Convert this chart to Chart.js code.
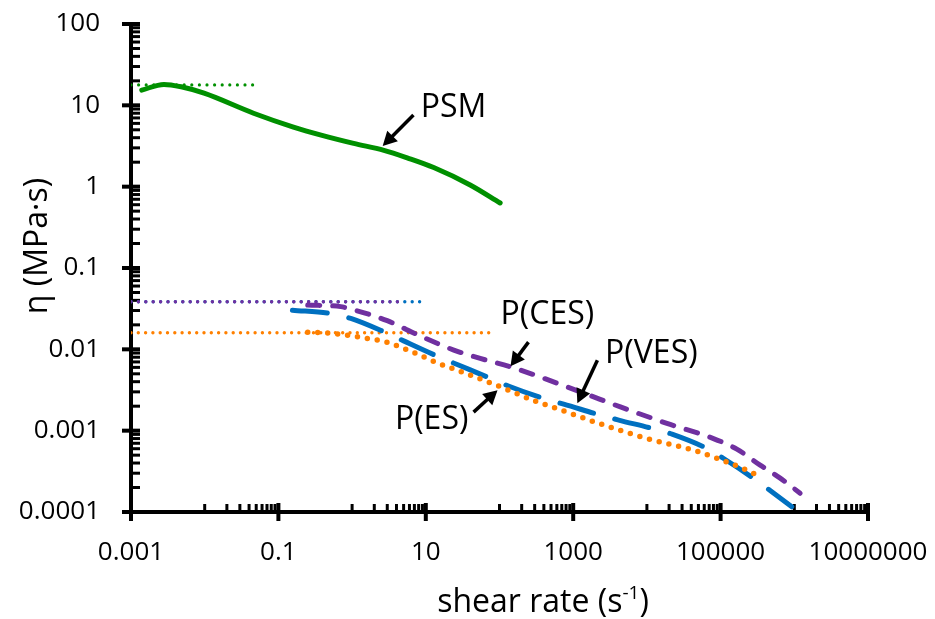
<!DOCTYPE html>
<html>
<head>
<meta charset="utf-8">
<title>Viscosity vs shear rate</title>
<script src="https://cdn.jsdelivr.net/npm/chart.js@4/dist/chart.umd.min.js"></script>
<style>
  html, body { margin: 0; padding: 0; background: #fff; }
  #wrap { width: 935px; height: 619px; }
</style>
</head>
<body>
<div id="wrap"><canvas id="chart" width="935" height="619"></canvas></div>
<script>
/* ============================================================
   Viscosity (MPa.s) against shear rate (1/s), log-log
   ============================================================ */

/* -- Data ------------------------------------------------------ */
var xTickValues = [0.001, 0.1, 10, 1000, 100000, 10000000];
var xTickLabels = ['0.001', '0.1', '10', '1000', '100000', '10000000'];
var yTickValues = [0.0001, 0.001, 0.01, 0.1, 1, 10, 100];
var yTickLabels = ['0.0001', '0.001', '0.01', '0.1', '1', '10', '100'];

// PSM
var psmX = [0.0014, 0.0028, 0.0048, 0.0098, 0.046, 0.16, 0.38, 1.05, 2.7, 5.7, 12.8, 40, 102];
var psmY = [15.4, 18.1, 16.9, 14.1, 8.0, 5.4, 4.3, 3.4, 2.8, 2.25, 1.72, 1.05, 0.63];
var psmZeroX = [0.001, 0.05];
var psmZeroY = [17.8, 17.8];

// P(CES)
var cesX = [0.25, 0.7, 1.0, 3.0, 8.0, 24, 65, 141, 1250, 4370, 18700, 80000, 166000, 344000, 643000, 1200000];
var cesY = [0.035, 0.0335, 0.031, 0.0225, 0.0149, 0.0098, 0.0074, 0.0061, 0.003, 0.00196, 0.00123, 0.0008, 0.000593, 0.000377, 0.000261, 0.00017];
var cesZeroX = [0.001, 4.6];
var cesZeroY = [0.0384, 0.0384];

// P(VES)
var vesX = [0.155, 0.51, 0.96, 2.85, 5.0, 14.9, 26.7, 75.5, 132, 420, 743, 2340, 4140, 13000, 21900, 68600, 110000, 311000, 495000, 925000];
var vesY = [0.0303, 0.0276, 0.024, 0.0161, 0.0127, 0.0081, 0.0065, 0.0044, 0.00354, 0.00245, 0.00212, 0.00155, 0.00135, 0.00104, 0.000905, 0.00059, 0.000455, 0.000242, 0.000177, 0.000116];
var vesZeroX = [0.001, 9.5];
var vesZeroY = [0.0384, 0.0384];

// P(ES)
var esX = [0.25, 0.5, 1.0, 1.6, 2.9, 6.2, 15, 22, 98, 325, 443, 2110, 10000, 43000, 98000, 227000, 363000];
var esY = [0.0162, 0.0158, 0.0146, 0.0136, 0.0123, 0.0095, 0.0067, 0.0059, 0.00352, 0.00226, 0.00206, 0.00125, 0.0008, 0.000575, 0.000443, 0.000327, 0.000265];
var esZeroX = [0.001, 80];
var esZeroY = [0.016, 0.016];

// Labels with arrows (text centre, arrow tail, arrow head in data units)
var notes = [
  { text: 'PSM',    at: [23.8, 9.27],     from: [6.8, 7.6],      to: [2.6, 3.16] },
  { text: 'P(CES)', at: [447, 0.0264],    from: [247, 0.01227],  to: [141, 0.0062] },
  { text: 'P(VES)', at: [11500, 0.00873], from: [2130, 0.00736], to: [1140, 0.00218] },
  { text: 'P(ES)',  at: [12, 0.001346],   from: [44.5, 0.00169], to: [94, 0.00315] }
];

/* -- Helpers --------------------------------------------------- */
var FONT = "'Open Sans', 'Noto Sans', sans-serif";

function pts(xs, ys) {
  return xs.map(function (x, i) { return { x: x, y: ys[i] }; });
}

function seg(ctx, x1, y1, x2, y2, w) {
  ctx.lineWidth = w;
  ctx.beginPath();
  ctx.moveTo(x1, y1);
  ctx.lineTo(x2, y2);
  ctx.stroke();
}

/* -- Tick marks (Excel style: majors cross, minors inside) ----- */
var axisMarks = {
  id: 'axisMarks',
  beforeDatasetsDraw: function (chart) {
    var ctx  = chart.ctx;
    var xs   = chart.scales.x;
    var ys   = chart.scales.y;
    var area = chart.chartArea;
    ctx.save();
    ctx.strokeStyle = '#000';
    ctx.lineCap = 'butt';

    yTickValues.forEach(function (v, i) {
      var p = ys.getPixelForValue(v);
      seg(ctx, area.left - 9, p, area.left + 9, p, 4);
      if (i === yTickValues.length - 1) return;
      for (var k = 2; k <= 9; k++) {
        var q = ys.getPixelForValue(k * v);
        seg(ctx, area.left, q, area.left + 9, q, 3);
      }
    });

    xTickValues.forEach(function (v, i) {
      var p = xs.getPixelForValue(v);
      seg(ctx, p, area.bottom - 9, p, area.bottom + 9, 4);
      if (i === xTickValues.length - 1) return;
      for (var k = 1; k <= 9; k++) {
        var q = xs.getPixelForValue(k * 10 * v);
        seg(ctx, q, area.bottom, q, area.bottom - 8, 3);
      }
    });
    ctx.restore();
  }
};

/* -- Axis titles and arrow labels ------------------------------ */
var annotations = {
  id: 'annotations',
  afterDatasetsDraw: function (chart) {
    var ctx = chart.ctx;
    var xs  = chart.scales.x;
    var ys  = chart.scales.y;
    ctx.save();
    ctx.fillStyle = '#000';
    ctx.strokeStyle = '#000';

    notes.forEach(function (n) {
      ctx.font = '32px ' + FONT;
      ctx.textAlign = 'center';
      ctx.textBaseline = 'middle';
      ctx.fillText(n.text, xs.getPixelForValue(n.at[0]), ys.getPixelForValue(n.at[1]));

      var x1 = xs.getPixelForValue(n.from[0]), y1 = ys.getPixelForValue(n.from[1]);
      var x2 = xs.getPixelForValue(n.to[0]),   y2 = ys.getPixelForValue(n.to[1]);
      var len = Math.hypot(x2 - x1, y2 - y1);
      var ux = (x2 - x1) / len, uy = (y2 - y1) / len;
      var hl = 14, hw = 7.5;
      ctx.lineCap = 'butt';
      seg(ctx, x1, y1, x2 - ux * (hl - 2), y2 - uy * (hl - 2), 3.5);
      ctx.beginPath();
      ctx.moveTo(x2, y2);
      ctx.lineTo(x2 - ux * hl - uy * hw, y2 - uy * hl + ux * hw);
      ctx.lineTo(x2 - ux * hl + uy * hw, y2 - uy * hl - ux * hw);
      ctx.closePath();
      ctx.fill();
    });

    // y title
    ctx.save();
    ctx.translate(38, 246);
    ctx.rotate(-Math.PI / 2);
    ctx.font = '32px ' + FONT;
    ctx.textAlign = 'center';
    ctx.textBaseline = 'middle';
    ctx.fillText('\u03B7 (MPa\u00B7s)', 0, 0);
    ctx.restore();

    // x title with superscript
    var big = '32px ' + FONT, small = '19px ' + FONT;
    var a = 'shear rate (s', sup = '-1', b = ')';
    ctx.font = big;   var wa = ctx.measureText(a).width, wb = ctx.measureText(b).width;
    ctx.font = small; var ws = ctx.measureText(sup).width;
    var x0 = 543 - (wa + ws + wb) / 2, base = 612;
    ctx.textAlign = 'left';
    ctx.textBaseline = 'alphabetic';
    ctx.font = big;   ctx.fillText(a, x0, base);
    ctx.font = small; ctx.fillText(sup, x0 + wa, base - 13);
    ctx.font = big;   ctx.fillText(b, x0 + wa + ws, base);
    ctx.restore();
  }
};

/* -- Datasets -------------------------------------------------- */
var GREEN = '#009000', PURPLE = '#7030a0', BLUE = '#0070c0', ORANGE = '#ff8000';

function curve(data, color, dash, width) {
  return {
    data: data,
    borderColor: color,
    borderWidth: width,
    borderDash: dash,
    borderCapStyle: 'round',
    pointRadius: 0,
    cubicInterpolationMode: 'monotone',
    fill: false
  };
}

var datasets = [
  curve(pts(cesX, cesY), PURPLE, [12, 13], 5),
  curve(pts(esX, esY), ORANGE, [0, 10], 5.5),
  curve(pts(vesX, vesY), BLUE, [35, 22], 5),
  curve(pts(psmX, psmY), GREEN, [], 5),
  curve(pts(psmZeroX, psmZeroY), GREEN, [0, 7.6], 3.2),
  curve(pts(cesZeroX, cesZeroY), PURPLE, [0, 7.4], 3.4),
  curve(pts(esZeroX, esZeroY), ORANGE, [0, 7.3], 3.4),
  curve(pts(vesZeroX, vesZeroY), BLUE, [0, 7.4], 3.4)
];

/* -- Chart ----------------------------------------------------- */
Chart.defaults.font.family = FONT;
Chart.defaults.color = '#000';

new Chart(document.getElementById('chart'), {
  type: 'line',
  data: { datasets: datasets },
  plugins: [axisMarks, annotations],
  options: {
    responsive: false,
    animation: false,
    layout: { padding: { top: 24, right: 67, bottom: 0, left: 0 } },
    plugins: {
      legend: { display: false },
      tooltip: { enabled: false }
    },
    scales: {
      x: {
        type: 'logarithmic',
        min: 0.001,
        max: 10000000,
        grid: { display: false, drawTicks: false },
        border: { display: true, color: '#000', width: 4 },
        afterBuildTicks: function (scale) {
          scale.ticks = xTickValues.map(function (v) { return { value: v }; });
        },
        afterFit: function (scale) {
          scale.height = 107;
          scale.paddingLeft = 0;
          scale.paddingRight = 0;
        },
        ticks: {
          autoSkip: false,
          maxRotation: 0,
          minRotation: 0,
          padding: 25,
          font: { size: 26 },
          callback: function (value, index) { return xTickLabels[index]; }
        }
      },
      y: {
        type: 'logarithmic',
        min: 0.0001,
        max: 100,
        grid: { display: false, drawTicks: false },
        border: { display: true, color: '#000', width: 4 },
        afterBuildTicks: function (scale) {
          scale.ticks = yTickValues.map(function (v) { return { value: v }; });
        },
        afterFit: function (scale) {
          scale.width = 131;
          scale.paddingTop = 0;
          scale.paddingBottom = 0;
        },
        ticks: {
          autoSkip: false,
          padding: 31,
          font: { size: 26 },
          callback: function (value, index) { return yTickLabels[index]; }
        }
      }
    }
  }
});
</script>
</body>
</html>
